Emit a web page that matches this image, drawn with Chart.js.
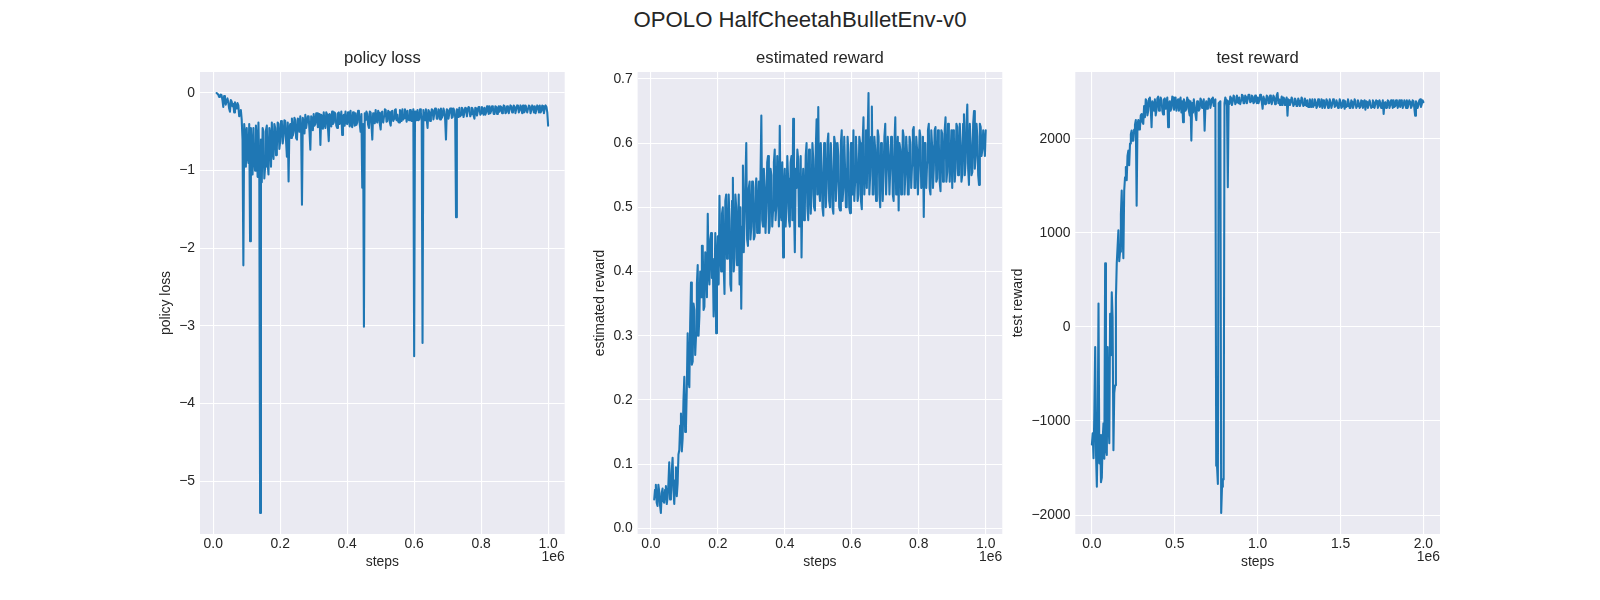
<!DOCTYPE html>
<html><head><meta charset="utf-8">
<script src="https://cdn.jsdelivr.net/npm/chart.js@4.4.1/dist/chart.umd.min.js"></script>
<style>
html,body{margin:0;padding:0;background:#fff;}
#fig{position:relative;width:1600px;height:600px;overflow:hidden;background:#fff;}
#sup{position:absolute;left:0;width:1600px;top:9px;text-align:center;font:22.2px/22.2px 'Liberation Sans',Arial,sans-serif;color:#262626;white-space:nowrap;}
.pane{position:absolute;top:40px;width:480px;height:560px;}
</style></head><body>
<div id="fig">
<div id="sup">OPOLO HalfCheetahBulletEnv-v0</div>
<div class="pane" style="left:110px"><canvas id="c1" width="480" height="560"></canvas></div>
<div class="pane" style="left:547px"><canvas id="c2" width="480" height="560"></canvas></div>
<div class="pane" style="left:985px"><canvas id="c3" width="480" height="560"></canvas></div>
</div>
<script>
// steps (in thousands) for policy loss / estimated reward
const stepsK = [
10,12.5,15,17.5,20,22.5,25,27.5,30,32.5,35,37.5,40,42.5,45,47.5,50,52.5,55,57.5,
60,62.5,65,67.5,70,72.5,75,77.5,80,82.5,85,87.5,90,92.5,95,97.5,100,102.5,105,107.5,
110,112.5,115,117.5,120,122.5,125,127.5,130,132.5,135,137.5,140,142.5,145,147.5,150,152.5,155,157.5,
160,162.5,165,167.5,170,172.5,175,177.5,180,182.5,185,187.5,190,192.5,195,197.5,200,202.5,205,207.5,
210,212.5,215,217.5,220,222.5,225,227.5,230,232.5,235,237.5,240,242.5,245,247.5,250,252.5,255,257.5,
260,262.5,265,267.5,270,272.5,275,277.5,280,282.5,285,287.5,290,292.5,295,297.5,300,302.5,305,307.5,
310,312.5,315,317.5,320,322.5,325,327.5,330,332.5,335,337.5,340,342.5,345,347.5,350,352.5,355,357.5,
360,362.5,365,367.5,370,372.5,375,377.5,380,382.5,385,387.5,390,392.5,395,397.5,400,402.5,405,407.5,
410,412.5,415,417.5,420,422.5,425,427.5,430,432.5,435,437.5,440,442.5,445,447.5,450,452.5,455,457.5,
460,462.5,465,467.5,470,472.5,475,477.5,480,482.5,485,487.5,490,492.5,495,497.5,500,502.5,505,507.5,
510,512.5,515,517.5,520,522.5,525,527.5,530,532.5,535,537.5,540,542.5,545,547.5,550,552.5,555,557.5,
560,562.5,565,567.5,570,572.5,575,577.5,580,582.5,585,587.5,590,592.5,595,597.5,600,602.5,605,607.5,
610,612.5,615,617.5,620,622.5,625,627.5,630,632.5,635,637.5,640,642.5,645,647.5,650,652.5,655,657.5,
660,662.5,665,667.5,670,672.5,675,677.5,680,682.5,685,687.5,690,692.5,695,697.5,700,702.5,705,707.5,
710,712.5,715,717.5,720,722.5,725,727.5,730,732.5,735,737.5,740,742.5,745,747.5,750,752.5,755,757.5,
760,762.5,765,767.5,770,772.5,775,777.5,780,782.5,785,787.5,790,792.5,795,797.5,800,802.5,805,807.5,
810,812.5,815,817.5,820,822.5,825,827.5,830,832.5,835,837.5,840,842.5,845,847.5,850,852.5,855,857.5,
860,862.5,865,867.5,870,872.5,875,877.5,880,882.5,885,887.5,890,892.5,895,897.5,900,902.5,905,907.5,
910,912.5,915,917.5,920,922.5,925,927.5,930,932.5,935,937.5,940,942.5,945,947.5,950,952.5,955,957.5,
960,962.5,965,967.5,970,972.5,975,977.5,980,982.5,985,987.5,990,992.5,995,997.5,1000];

const policyLoss = [
0.00,-0.01,-0.02,-0.05,-0.04,-0.02,-0.03,-0.09,-0.18,-0.04,-0.08,-0.15,-0.10,-0.07,-0.12,-0.20,-0.24,-0.09,-0.11,-0.17,
-0.14,-0.25,-0.12,-0.18,-0.20,-0.13,-0.16,-0.30,-0.28,-0.22,-0.34,-0.60,-2.22,-0.40,-0.55,-0.95,-0.45,-0.80,-0.90,-0.40,
-1.91,-0.45,-0.70,-1.05,-0.45,-0.85,-1.00,-0.42,-0.60,-1.08,-0.38,-0.95,-5.41,-0.60,-1.15,-0.45,-0.50,-1.10,-0.95,-0.48,
-0.42,-0.90,-1.05,-0.45,-0.55,-0.95,-0.38,-0.75,-0.85,-0.40,-0.45,-0.80,-0.70,-0.38,-0.40,-0.72,-0.62,-0.36,-0.38,-0.65,
-0.55,-0.35,-0.36,-0.62,-0.82,-0.38,-1.14,-0.45,-0.40,-0.58,-0.33,-0.55,-0.50,-0.32,-0.35,-0.58,-0.60,-0.33,-0.34,-0.50,
-0.30,-0.48,-1.44,-0.32,-0.38,-0.52,-0.28,-0.45,-0.45,-0.30,-0.30,-0.50,-0.73,-0.30,-0.33,-0.48,-0.27,-0.42,-0.40,-0.26,
-0.26,-0.44,-0.42,-0.27,-0.67,-0.28,-0.30,-0.46,-0.25,-0.40,-0.45,-0.25,-0.28,-0.44,-0.62,-0.27,-0.30,-0.43,-0.24,-0.40,
-0.38,-0.25,-0.27,-0.42,-0.45,-0.26,-0.25,-0.40,-0.35,-0.24,-0.54,-0.30,-0.28,-0.42,-0.24,-0.39,-0.40,-0.25,-0.29,-0.43,
-0.23,-0.40,-0.44,-0.25,-0.30,-0.42,-0.26,-0.41,-0.38,-0.23,-0.24,-0.40,-0.50,-0.27,-1.22,-0.40,-3.01,-0.26,-0.35,-0.24,
-0.27,-0.41,-0.45,-0.24,-0.25,-0.40,-0.60,-0.26,-0.28,-0.39,-0.22,-0.36,-0.38,-0.23,-0.26,-0.40,-0.47,-0.25,-0.24,-0.38,
-0.30,-0.21,-0.22,-0.37,-0.36,-0.23,-0.25,-0.38,-0.42,-0.24,-0.23,-0.36,-0.33,-0.22,-0.21,-0.35,-0.28,-0.37,-0.38,-0.22,
-0.24,-0.36,-0.21,-0.34,-0.32,-0.21,-0.26,-0.37,-0.23,-0.34,-0.35,-0.22,-0.22,-0.36,-0.30,-0.21,-3.39,-0.24,-0.28,-0.35,
-0.22,-0.35,-0.34,-0.21,-0.25,-0.36,-3.22,-0.22,-0.28,-0.35,-0.21,-0.34,-0.45,-0.22,-0.24,-0.36,-0.30,-0.21,-0.22,-0.34,
-0.27,-0.20,-0.21,-0.33,-0.33,-0.21,-0.23,-0.34,-0.20,-0.32,-0.29,-0.20,-0.24,-0.34,-0.60,-0.21,-0.22,-0.33,-0.26,-0.20,
-0.20,-0.32,-0.31,-0.20,-0.23,-0.31,-1.60,-0.21,-0.22,-0.31,-0.19,-0.30,-0.28,-0.19,-0.21,-0.31,-0.25,-0.19,-0.20,-0.30,
-0.23,-0.18,-0.19,-0.30,-0.27,-0.19,-0.21,-0.29,-0.33,-0.19,-0.20,-0.29,-0.24,-0.18,-0.18,-0.28,-0.26,-0.18,-0.21,-0.28,
-0.19,-0.28,-0.25,-0.17,-0.20,-0.27,-0.17,-0.26,-0.23,-0.17,-0.19,-0.27,-0.27,-0.17,-0.18,-0.27,-0.21,-0.17,-0.24,-0.17,
-0.18,-0.26,-0.22,-0.16,-0.17,-0.26,-0.25,-0.17,-0.19,-0.26,-0.21,-0.16,-0.17,-0.25,-0.23,-0.16,-0.18,-0.26,-0.20,-0.16,
-0.17,-0.25,-0.22,-0.16,-0.19,-0.26,-0.16,-0.25,-0.24,-0.16,-0.18,-0.25,-0.20,-0.16,-0.17,-0.26,-0.22,-0.16,-0.18,-0.25,
-0.17,-0.26,-0.21,-0.16,-0.18,-0.25,-0.16,-0.25,-0.23,-0.16,-0.17,-0.26,-0.20,-0.16,-0.18,-0.25,-0.42];

const estimatedReward = [
0.045,0.060,0.068,0.040,0.035,0.068,0.058,0.036,0.024,0.055,0.062,0.042,0.040,0.060,0.066,0.038,0.048,0.070,0.103,0.045,
0.052,0.090,0.110,0.060,0.038,0.075,0.095,0.050,0.070,0.115,0.122,0.160,0.179,0.120,0.140,0.200,0.236,0.150,0.160,0.220,
0.304,0.230,0.220,0.320,0.383,0.255,0.260,0.350,0.340,0.270,0.300,0.380,0.410,0.300,0.330,0.400,0.360,0.440,0.440,0.340,
0.345,0.430,0.420,0.360,0.490,0.400,0.380,0.450,0.460,0.390,0.420,0.330,0.370,0.460,0.304,0.420,0.455,0.380,0.518,0.430,
0.400,0.490,0.500,0.410,0.365,0.510,0.520,0.420,0.440,0.520,0.480,0.380,0.370,0.510,0.546,0.400,0.420,0.520,0.500,0.410,
0.460,0.520,0.380,0.500,0.342,0.470,0.565,0.430,0.480,0.540,0.600,0.450,0.440,0.530,0.540,0.450,0.470,0.540,0.520,0.450,
0.455,0.530,0.545,0.460,0.490,0.540,0.460,0.550,0.643,0.480,0.470,0.560,0.530,0.460,0.500,0.570,0.580,0.460,0.470,0.560,
0.550,0.470,0.495,0.570,0.590,0.480,0.505,0.580,0.520,0.470,0.627,0.490,0.480,0.570,0.422,0.530,0.560,0.470,0.500,0.580,
0.545,0.480,0.470,0.570,0.580,0.480,0.638,0.500,0.430,0.560,0.530,0.590,0.575,0.470,0.485,0.580,0.422,0.520,0.560,0.480,
0.500,0.580,0.600,0.500,0.480,0.590,0.540,0.490,0.520,0.600,0.575,0.500,0.495,0.590,0.637,0.520,0.656,0.530,0.510,0.600,
0.560,0.500,0.487,0.600,0.590,0.500,0.530,0.600,0.615,0.510,0.500,0.600,0.560,0.500,0.490,0.610,0.600,0.510,0.540,0.600,
0.580,0.500,0.495,0.600,0.620,0.510,0.530,0.610,0.560,0.500,0.500,0.610,0.585,0.500,0.491,0.600,0.600,0.520,0.620,0.510,
0.540,0.610,0.575,0.510,0.520,0.610,0.600,0.510,0.497,0.600,0.640,0.520,0.560,0.620,0.530,0.610,0.678,0.520,0.550,0.610,
0.657,0.520,0.520,0.610,0.590,0.510,0.545,0.620,0.610,0.520,0.500,0.600,0.575,0.510,0.555,0.610,0.630,0.520,0.520,0.610,
0.580,0.520,0.560,0.610,0.600,0.520,0.510,0.600,0.640,0.520,0.570,0.610,0.495,0.600,0.590,0.520,0.545,0.620,0.610,0.520,
0.550,0.610,0.585,0.520,0.520,0.610,0.600,0.530,0.565,0.620,0.625,0.530,0.530,0.610,0.590,0.520,0.560,0.620,0.610,0.530,
0.540,0.610,0.485,0.600,0.600,0.530,0.570,0.620,0.630,0.530,0.520,0.620,0.595,0.530,0.560,0.620,0.625,0.540,0.545,0.620,
0.600,0.540,0.525,0.620,0.615,0.540,0.570,0.620,0.640,0.540,0.555,0.630,0.600,0.540,0.580,0.620,0.530,0.620,0.610,0.540,
0.560,0.630,0.625,0.550,0.575,0.630,0.600,0.540,0.550,0.630,0.645,0.550,0.570,0.630,0.660,0.560,0.535,0.630,0.600,0.550,
0.555,0.630,0.650,0.560,0.580,0.630,0.610,0.550,0.535,0.630,0.625,0.580,0.590,0.620,0.605,0.580,0.620];

// steps (in thousands) for test reward
const testStepsK = [
0,5,10,15,20,25,30,35,40,45,50,55,60,65,70,75,80,85,90,95,
100,105,110,115,120,125,130,135,140,145,150,155,160,165,170,175,180,185,190,195,
200,205,210,215,220,225,230,235,240,245,250,255,260,265,270,275,280,285,290,295,
300,305,310,315,320,325,330,335,340,345,350,355,360,365,370,375,380,385,390,395,
400,405,410,415,420,425,430,435,440,445,450,455,460,465,470,475,480,485,490,495,
500,505,510,515,520,525,530,535,540,545,550,555,560,565,570,575,580,585,590,595,
600,605,610,615,620,625,630,635,640,645,650,655,660,665,670,675,680,685,690,695,
700,705,710,715,720,725,730,735,740,745,750,755,760,765,770,775,780,785,790,795,
800,805,810,815,820,825,830,835,840,845,850,855,860,865,870,875,880,885,890,895,
900,905,910,915,920,925,930,935,940,945,950,955,960,965,970,975,980,985,990,995,
1000,1005,1010,1015,1020,1025,1030,1035,1040,1045,1050,1055,1060,1065,1070,1075,1080,1085,1090,1095,
1100,1105,1110,1115,1120,1125,1130,1135,1140,1145,1150,1155,1160,1165,1170,1175,1180,1185,1190,1195,
1200,1205,1210,1215,1220,1225,1230,1235,1240,1245,1250,1255,1260,1265,1270,1275,1280,1285,1290,1295,
1300,1305,1310,1315,1320,1325,1330,1335,1340,1345,1350,1355,1360,1365,1370,1375,1380,1385,1390,1395,
1400,1405,1410,1415,1420,1425,1430,1435,1440,1445,1450,1455,1460,1465,1470,1475,1480,1485,1490,1495,
1500,1505,1510,1515,1520,1525,1530,1535,1540,1545,1550,1555,1560,1565,1570,1575,1580,1585,1590,1595,
1600,1605,1610,1615,1620,1625,1630,1635,1640,1645,1650,1655,1660,1665,1670,1675,1680,1685,1690,1695,
1700,1705,1710,1715,1720,1725,1730,1735,1740,1745,1750,1755,1760,1765,1770,1775,1780,1785,1790,1795,
1800,1805,1810,1815,1820,1825,1830,1835,1840,1845,1850,1855,1860,1865,1870,1875,1880,1885,1890,1895,
1900,1905,1910,1915,1920,1925,1930,1935,1940,1945,1950,1955,1960,1965,1970,1975,1980,1985,1990,1995,
2000];

const testReward = [
-1250,-1130,-1395,-900,-212,-1350,-1698,-1100,250,-1450,-1150,-1650,-1600,-1200,-1025,-1400,676,-1300,-1360,-212,
-1000,-1235,140,-300,370,100,-1310,-700,-620,300,676,850,1027,700,800,1200,1450,1000,730,1450,
1592,1700,1560,1820,1875,1720,1950,2050,2090,1980,1980,2100,2150,2200,1290,2150,2200,2100,2120,2250,
2265,2180,2160,2350,2230,2420,2405,2250,2300,2430,2440,2330,2123,2400,2380,2300,2420,2250,2310,2430,
2450,2300,2350,2440,2410,2300,2260,2420,2430,2320,2380,2440,2123,2380,2400,2300,2330,2450,2440,2310,
2370,2440,2300,2400,2420,2300,2350,2440,2280,2400,2177,2420,2390,2300,2320,2440,2410,2300,2250,2400,
1982,2380,2280,2420,2350,2260,2200,2400,2390,2300,2320,2430,2410,2330,2360,2420,2088,2350,2400,2320,
2350,2430,2420,2330,2380,2430,2440,2350,2400,2420,-1476,-1480,-1670,2380,2390,2400,-1978,-1700,-1617,-1620,
2380,2440,2410,2350,1486,2400,2370,2450,2430,2360,2400,2460,2450,2370,2390,2460,2420,2380,2440,2370,
2410,2470,2460,2380,2380,2460,2440,2380,2420,2470,2470,2390,2400,2460,2450,2380,2390,2460,2430,2380,
2440,2380,2410,2470,2460,2390,2320,2450,2420,2370,2400,2460,2450,2380,2380,2460,2430,2370,2410,2460,
2440,2370,2390,2460,2488,2380,2420,2360,2400,2450,2360,2440,2430,2360,2380,2440,2247,2420,2410,2360,
2390,2440,2420,2350,2370,2430,2410,2350,2350,2430,2400,2350,2380,2440,2420,2350,2360,2430,2390,2350,
2410,2340,2340,2420,2380,2340,2420,2340,2360,2420,2390,2330,2350,2420,2400,2340,2370,2420,2330,2410,
2390,2330,2360,2420,2400,2330,2340,2420,2380,2330,2370,2420,2410,2340,2350,2410,2380,2330,2360,2420,
2390,2330,2340,2410,2370,2320,2400,2340,2350,2420,2380,2330,2330,2410,2390,2330,2360,2420,2400,2330,
2350,2410,2380,2330,2340,2410,2400,2330,2370,2410,2310,2400,2390,2330,2360,2410,2380,2330,2340,2410,
2390,2330,2370,2410,2400,2330,2350,2410,2380,2330,2360,2410,2265,2380,2390,2330,2350,2410,2400,2330,
2360,2410,2380,2330,2410,2340,2350,2410,2390,2330,2370,2410,2340,2410,2400,2330,2360,2410,2380,2330,
2410,2330,2370,2410,2390,2330,2350,2410,2400,2330,2247,2400,2380,2330,2360,2410,2420,2340,2370,2410,
2390];

const xTicks1 = [0, 0.2, 0.4, 0.6, 0.8, 1.0];
const xTicks3 = [0, 0.5, 1.0, 1.5, 2.0];
const yTicksLoss = [-5, -4, -3, -2, -1, 0];
const yTicksEst = [0, 0.1, 0.2, 0.3, 0.4, 0.5, 0.6, 0.7];
const yTicksTest = [-2000, -1000, 0, 1000, 2000];

const FONT = "'Liberation Sans', Arial, sans-serif";
const TXT = '#262626';
Chart.defaults.font.family = FONT;
Chart.defaults.color = TXT;

const axBg = {id:'axBg', beforeDraw(c){const a=c.chartArea,x=c.ctx;x.save();x.fillStyle='#EAEAF2';x.fillRect(a.left,a.top,a.right-a.left,a.bottom-a.top);x.restore();}};
const offsetText = {id:'offsetText', afterDraw(c,args,opts){ if(!opts || !opts.text) return; const a=c.chartArea,x=c.ctx; x.save(); x.font='13.9px '+FONT; x.fillStyle=TXT; x.textAlign='right'; x.textBaseline='alphabetic'; x.fillText(opts.text, a.right, a.bottom+27); x.restore(); }};

function lims(arr){ const lo=Math.min(...arr), hi=Math.max(...arr), d=(hi-lo)*0.05; return [lo-d, hi+d]; }
const minus = v => String(v).replace('-', '\u2212');

function panel(id, xs, ys, o){
  const [xmin,xmax]=lims(xs), [ymin,ymax]=lims(ys);
  const tickFont={family:FONT,size:13.9};
  return new Chart(document.getElementById(id), {
    type:'line',
    data:{datasets:[{data: xs.map((x,i)=>({x:x, y:ys[i]})), borderColor:'#1f77b4', borderWidth:2.08, pointRadius:0, pointHoverRadius:0, fill:false, tension:0, borderCapStyle:'round', borderJoinStyle:'round'}]},
    options:{
      responsive:false, animation:false, events:[],
      layout:{padding:{left:0,top:0,bottom:0,right:o.padRight}},
      plugins:{legend:{display:false}, tooltip:{enabled:false},
        title:{display:true, text:o.title, color:TXT, fullSize:false, font:{family:FONT,size:16.67,weight:'normal',lineHeight:1.2}, padding:{top:7.9,bottom:4.1}},
        offsetText:{text:'1e6'}},
      scales:{
        x:{type:'linear', min:xmin, max:xmax, border:{display:false}, grid:{color:'#ffffff', lineWidth:1.1, drawTicks:false},
           ticks:{padding:1.8, color:TXT, font:tickFont, autoSkip:false, maxRotation:0, minRotation:0, callback:v=>Number(v).toFixed(1)},
           afterBuildTicks: ax=>{ax.ticks=o.xTicks.map(v=>({value:v}));},
           afterFit: ax=>{ax.height=66;},
           title:{display:true, text:'steps', color:TXT, font:{family:FONT,size:13.9,lineHeight:1.2}, padding:{top:0,bottom:29.1}}},
        y:{type:'linear', min:ymin, max:ymax, border:{display:false}, grid:{color:'#ffffff', lineWidth:1.1, drawTicks:false},
           ticks:{padding:4.9, color:TXT, font:tickFont, autoSkip:false, callback:o.yFmt},
           afterBuildTicks: ax=>{ax.ticks=o.yTicks.map(v=>({value:v}));},
           afterFit: ax=>{ax.width=o.yw;},
           title:{display:true, text:o.ylabel, color:TXT, font:{family:FONT,size:13.9,lineHeight:1.2}, padding:{top:o.yTitlePad,bottom:0}}}
      }
    },
    plugins:[axBg, offsetText]
  });
}

const xs12 = stepsK.map(s=>s/1000);
const xs3 = testStepsK.map(s=>s/1000);

panel('c1', xs12, policyLoss, {title:'policy loss', ylabel:'policy loss', xTicks:xTicks1, yTicks:yTicksLoss, yFmt:v=>minus(v), yw:90, yTitlePad:47.5, padRight:25.3});
panel('c2', xs12, estimatedReward, {title:'estimated reward', ylabel:'estimated reward', xTicks:xTicks1, yTicks:yTicksEst, yFmt:v=>Number(v).toFixed(1), yw:90.6, yTitlePad:44.6, padRight:24.7});
panel('c3', xs3, testReward, {title:'test reward', ylabel:'test reward', xTicks:xTicks3, yTicks:yTicksTest, yFmt:v=>minus(v), yw:90.3, yTitlePad:24.6, padRight:25.0});
</script>
</body></html>
